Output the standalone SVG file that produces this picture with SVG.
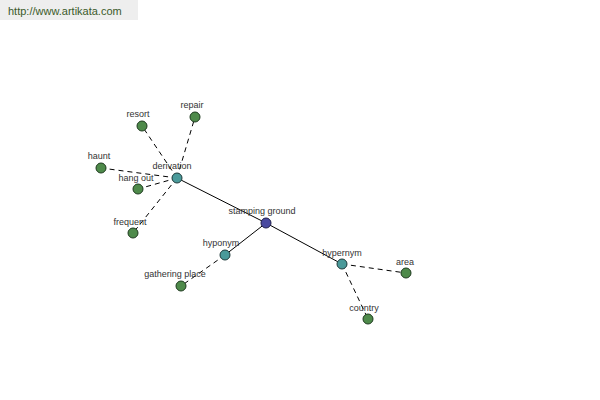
<svg xmlns="http://www.w3.org/2000/svg" width="600" height="400" viewBox="0 0 600 400">
<style>
.lbl{font-family:"Liberation Sans",Arial,sans-serif;font-size:9px;fill:#333;text-anchor:middle}
.leaf{fill:#4e8a4a;stroke:#1e3a1e;stroke-width:1}
.mid{fill:#4a9a9a;stroke:#1e3a3a;stroke-width:1}
.root{fill:#4a4aa0;stroke:#1e1e4a;stroke-width:1}
.solid{stroke:#000;stroke-width:1;fill:none}
.dash{stroke:#000;stroke-width:1;fill:none;stroke-dasharray:5,4}
</style>
<rect width="600" height="400" fill="#fff"/>
<rect x="0" y="0" width="138" height="20" fill="#eeeeee"/>
<text x="8" y="15" font-family="'Liberation Sans',Arial,sans-serif" font-size="11" fill="#3a5a2a">http://www.artikata.com</text>
<g id="connectors">
<line class="solid" x1="266" y1="223" x2="177" y2="178"/>
<line class="solid" x1="266" y1="223" x2="225" y2="255"/>
<line class="solid" x1="266" y1="223" x2="342" y2="264"/>
<line class="dash" x1="177" y1="178" x2="195" y2="117"/>
<line class="dash" x1="177" y1="178" x2="142" y2="126"/>
<line class="dash" x1="177" y1="178" x2="101" y2="168"/>
<line class="dash" x1="177" y1="178" x2="138" y2="189"/>
<line class="dash" x1="177" y1="178" x2="133" y2="233"/>
<line class="dash" x1="225" y1="255" x2="181" y2="286"/>
<line class="dash" x1="342" y1="264" x2="406" y2="273"/>
<line class="dash" x1="342" y1="264" x2="368" y2="319"/>
</g>
<g id="repair"><circle class="leaf" cx="195" cy="117" r="5"/><text class="lbl" x="192" y="108">repair</text></g>
<g id="resort"><circle class="leaf" cx="142" cy="126" r="5"/><text class="lbl" x="138" y="117">resort</text></g>
<g id="haunt"><circle class="leaf" cx="101" cy="168" r="5"/><text class="lbl" x="99" y="159">haunt</text></g>
<g id="hang-out"><circle class="leaf" cx="138" cy="189" r="5"/><text class="lbl" x="136" y="181">hang out</text></g>
<g id="frequent"><circle class="leaf" cx="133" cy="233" r="5"/><text class="lbl" x="130" y="225">frequent</text></g>
<g id="derivation"><circle class="mid" cx="177" cy="178" r="5"/><text class="lbl" x="172" y="169">derivation</text></g>
<g id="stamping-ground"><circle class="root" cx="266" cy="223" r="5"/><text class="lbl" x="262" y="214">stamping ground</text></g>
<g id="hyponym"><circle class="mid" cx="225" cy="255" r="5"/><text class="lbl" x="221" y="246">hyponym</text></g>
<g id="gathering-place"><circle class="leaf" cx="181" cy="286" r="5"/><text class="lbl" x="175" y="277">gathering place</text></g>
<g id="hypernym"><circle class="mid" cx="342" cy="264" r="5"/><text class="lbl" x="342" y="256">hypernym</text></g>
<g id="area"><circle class="leaf" cx="406" cy="273" r="5"/><text class="lbl" x="405" y="265">area</text></g>
<g id="country"><circle class="leaf" cx="368" cy="319" r="5"/><text class="lbl" x="364" y="311">country</text></g>
</svg>
